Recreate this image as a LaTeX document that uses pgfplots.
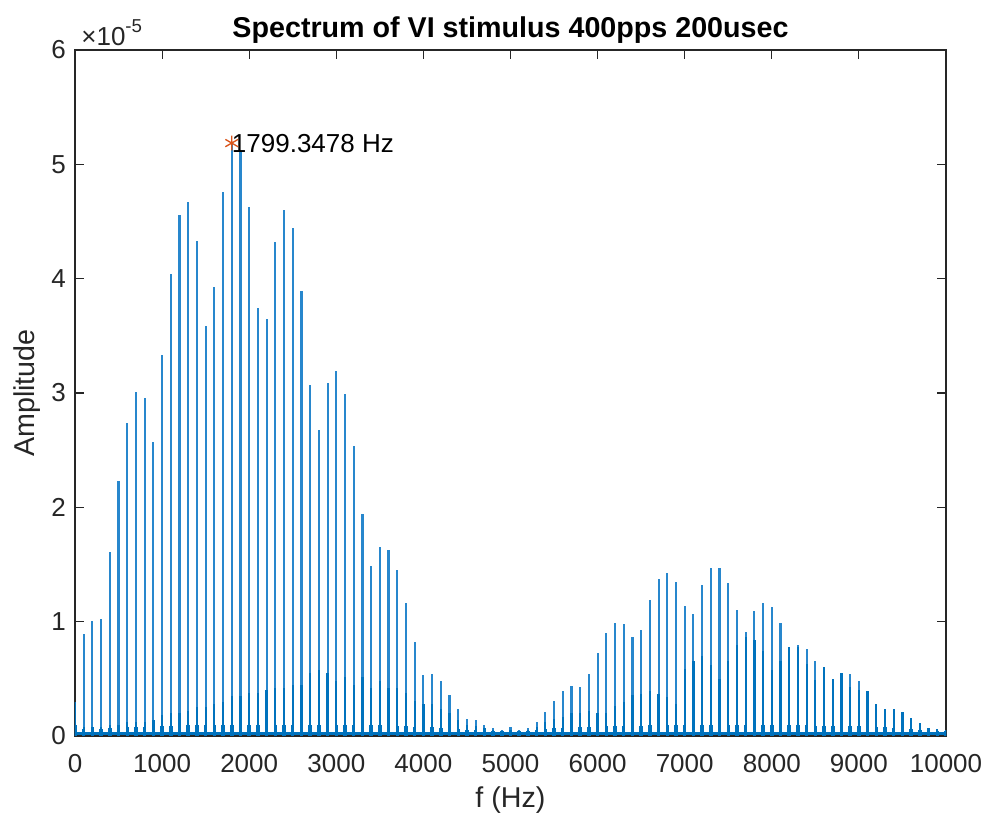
\documentclass[border=0pt]{standalone}
\usepackage{fontspec}
\setmainfont{Liberation Sans}
\usepackage{pgfplots}
\usepackage{pgfplotstable}
\pgfplotsset{compat=1.18}

\definecolor{mblue}{RGB}{0,114,189}
\definecolor{mlight}{RGB}{40,135,205}
\definecolor{morange}{RGB}{217,83,25}
\definecolor{mgray}{RGB}{38,38,38}

\newcommand\tickfont{\fontsize{19.5pt}{23pt}\selectfont}
\newcommand\labelfont{\fontsize{21.5pt}{25pt}\selectfont}

% f = frequency (Hz), h = peak, s = darker lower part, b = base bump (units of 1e-5)
\pgfplotstableread{
f h s b
0 0.30 0.30 0.10
100 0.89 0.08 0.06
200 1.01 0.08 0.06
300 1.02 0.08 0.06
400 1.61 0.10 0.07
500 2.23 0.10 0.07
600 2.74 0.12 0.08
700 3.01 0.12 0.08
800 2.96 0.12 0.08
900 2.57 0.14 0.08
1000 3.33 0.18 0.09
1100 4.04 0.20 0.09
1200 4.56 0.20 0.09
1300 4.67 0.22 0.10
1400 4.33 0.25 0.10
1500 3.59 0.25 0.10
1600 3.93 0.28 0.10
1700 4.76 0.30 0.10
1800 5.19 0.35 0.10
1900 5.12 0.35 0.10
2000 4.63 0.38 0.10
2100 3.74 0.38 0.10
2200 3.65 0.40 0.10
2300 4.32 0.42 0.10
2400 4.60 0.42 0.10
2500 4.44 0.45 0.10
2600 3.89 0.45 0.10
2700 3.07 0.55 0.10
2800 2.68 0.58 0.10
2900 3.09 0.55 0.10
3000 3.19 0.48 0.10
3100 2.99 0.52 0.10
3200 2.54 0.45 0.10
3300 1.94 0.52 0.10
3400 1.49 0.42 0.10
3500 1.65 0.48 0.10
3600 1.63 0.42 0.09
3700 1.45 0.42 0.09
3800 1.16 0.38 0.09
3900 0.82 0.31 0.08
4000 0.53 0.28 0.08
4100 0.54 0.28 0.08
4200 0.48 0.24 0.07
4300 0.36 0.20 0.07
4400 0.24 0.14 0.06
4500 0.15 0.10 0.05
4600 0.14 0.09 0.05
4700 0.10 0.07 0.05
4800 0.07 0.05 0.04
4900 0.05 0.04 0.04
5000 0.08 0.05 0.04
5100 0.05 0.04 0.04
5200 0.07 0.05 0.04
5300 0.12 0.08 0.05
5400 0.21 0.12 0.06
5500 0.31 0.15 0.07
5600 0.39 0.17 0.07
5700 0.44 0.20 0.08
5800 0.43 0.20 0.08
5900 0.54 0.22 0.08
6000 0.73 0.20 0.09
6100 0.90 0.20 0.09
6200 0.99 0.26 0.09
6300 0.98 0.30 0.09
6400 0.87 0.36 0.09
6500 0.93 0.37 0.09
6600 1.19 0.39 0.10
6700 1.37 0.37 0.10
6800 1.43 0.34 0.10
6900 1.35 0.28 0.10
7000 1.14 0.59 0.10
7100 1.07 0.66 0.10
7200 1.32 0.70 0.10
7300 1.47 0.62 0.10
7400 1.47 0.50 0.10
7500 1.34 0.66 0.10
7600 1.10 0.80 0.10
7700 0.91 0.87 0.10
7800 1.09 0.84 0.10
7900 1.16 0.74 0.10
8000 1.13 0.58 0.10
8100 0.99 0.66 0.10
8200 0.78 0.78 0.10
8300 0.80 0.78 0.10
8400 0.76 0.63 0.10
8500 0.66 0.49 0.09
8600 0.60 0.60 0.09
8700 0.50 0.50 0.09
8800 0.55 0.55 0.09
8900 0.54 0.43 0.09
9000 0.48 0.40 0.09
9100 0.39 0.39 0.08
9200 0.28 0.28 0.08
9300 0.24 0.24 0.08
9400 0.24 0.24 0.07
9500 0.21 0.21 0.07
9600 0.16 0.16 0.06
9700 0.11 0.11 0.05
9800 0.07 0.07 0.05
9900 0.06 0.06 0.04
10000 0.05 0.05 0.04
}\spec

\begin{document}
\begin{tikzpicture}
\begin{axis}[
    name=ax,
    scale only axis,
    width=653.25pt, height=514.5pt,
    xmin=0, xmax=10000, ymin=0, ymax=6,
    xtick={0,1000,...,10000},
    ytick={0,1,...,6},
    scaled x ticks=false,
    scaled y ticks=false,
    tick align=inside,
    major tick length=7pt,
    axis line style={mgray, line width=0.8pt},
    major tick style={mgray, line width=0.8pt},
    tick label style={font=\tickfont, text=mgray},
    /pgf/number format/assume math mode=true,
    /pgf/number format/1000 sep={},
    xticklabel style={yshift=-10.5pt},
    yticklabel style={xshift=-3.3pt},
    title={Spectrum of VI stimulus 400pps 200usec},
    title style={font=\labelfont\bfseries, text=black, anchor=base, at={(0.5,1)}, yshift=3pt},
]
\addplot[ycomb, mlight, line width=1.6pt] table[x=f, y=h] {\spec};
\addplot[ycomb, mblue, line width=1.7pt] table[x=f, y=s] {\spec};
\addplot[ycomb, mblue, line width=2.6pt] table[x=f, y=b] {\spec};
\addplot[mblue, line width=2pt] coordinates {(0,0.02) (10000,0.02)};
\addplot[only marks, mark=asterisk, mark size=5.5pt, morange, line width=1pt]
    coordinates {(1799.3478,5.186)};
\node[anchor=west, inner sep=0pt, font=\tickfont, text=black] at (axis cs:1799.3478,5.186) {1799.3478 Hz};
\end{axis}
\node[anchor=base west, font=\tickfont, text=mgray] at ([shift={(1.25pt,3pt)}]ax.north west)
    {×10\raisebox{0.5em}{\fontsize{14pt}{14pt}\selectfont -5}};
\node[rotate=90, font=\labelfont, text=mgray] at ([xshift=-36pt]ax.west) {Amplitude};
\node[font=\labelfont, text=mgray] at ([yshift=-48pt]ax.south) {f (Hz)};
\pgfresetboundingbox
\path ([shift={(-56.25pt,-60.75pt)}]ax.south west) rectangle ([shift={(28.5pt,37.5pt)}]ax.north east);
\end{tikzpicture}
\end{document}
